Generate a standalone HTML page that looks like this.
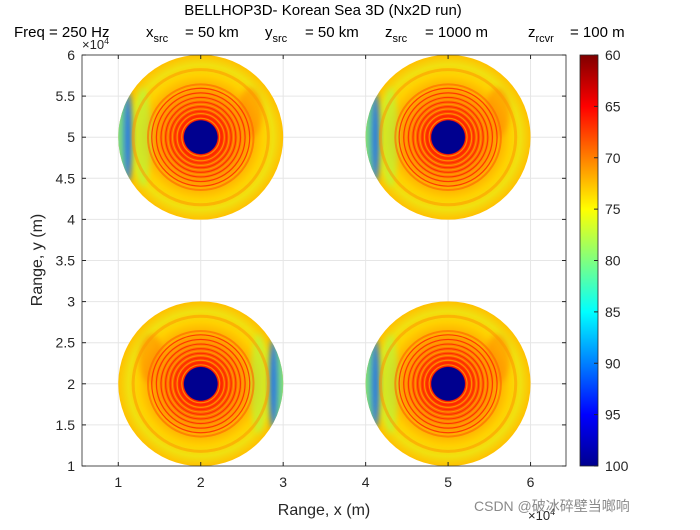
<!DOCTYPE html>
<html><head><meta charset="utf-8"><style>
html,body{margin:0;padding:0;background:#fff;}
svg text{font-family:"Liberation Sans","Noto Sans CJK SC",sans-serif;}
</style></head><body>
<svg id="chart" width="700" height="525" xmlns="http://www.w3.org/2000/svg">
<defs>
<linearGradient id="jet" x1="0" y1="1" x2="0" y2="0">
<stop offset="0" stop-color="#00008f"/><stop offset="0.125" stop-color="#0000ff"/>
<stop offset="0.375" stop-color="#00ffff"/><stop offset="0.625" stop-color="#ffff00"/>
<stop offset="0.875" stop-color="#ff0000"/><stop offset="1" stop-color="#800000"/>
</linearGradient>
<radialGradient id="disc">
<stop offset="0" stop-color="#00008f"/><stop offset="0.2" stop-color="#00008f"/>
<stop offset="0.21" stop-color="#ff2000"/><stop offset="0.35" stop-color="#ff5a00"/>
<stop offset="0.5" stop-color="#ff8c00"/><stop offset="0.62" stop-color="#ffb000"/>
<stop offset="0.75" stop-color="#ffd000"/><stop offset="0.88" stop-color="#f0e010"/>
<stop offset="1" stop-color="#ffc000"/>
</radialGradient>
<filter id="blur" x="-50%" y="-50%" width="200%" height="200%"><feGaussianBlur stdDeviation="3"/></filter>
</defs>
<g id="plot"></g>
</svg>
<script>
const xTicks=[1,2,3,4,5,6];
const yTicks=[1,1.5,2,2.5,3,3.5,4,4.5,5,5.5,6];
const cbTicks=[60,65,70,75,80,85,90,95,100];
const centersX=[2,5,2,5];
const centersY=[5,5,2,2];
const outerR=[1,1,1,1];
const innerR=[0.2,0.2,0.2,0.2];
const blueSide=[-1,-1,1,-1];
const xMin=0.56,xMax=6.43,yMin=1,yMax=6;
const L=82,R=566,T=55,B=466;
const sx=v=>L+(v-xMin)/(xMax-xMin)*(R-L);
const sy=v=>B-(v-yMin)/(yMax-yMin)*(B-T);
const ppu=(R-L)/(xMax-xMin);
const NS="http://www.w3.org/2000/svg";
const g=document.getElementById('plot');
function mk(t,a,p){const e=document.createElementNS(NS,t);for(const k in a)e.setAttribute(k,a[k]);(p||g).appendChild(e);return e;}
mk('rect',{x:L,y:T,width:R-L,height:B-T,fill:'#fff',stroke:'none'});
xTicks.forEach(v=>{mk('line',{x1:sx(v),x2:sx(v),y1:T,y2:B,stroke:'#e6e6e6'});});
yTicks.forEach(v=>{mk('line',{x1:L,x2:R,y1:sy(v),y2:sy(v),stroke:'#e6e6e6'});});
centersX.forEach((cx,i)=>{
  const grp=mk('g',{});
  
  
  const X=sx(cx),Y=sy(centersY[i]),r=outerR[i]*ppu,s=blueSide[i];
  mk('circle',{cx:X,cy:Y,r:r,fill:'url(#disc)'},grp);
  const cp=mk('clipPath',{id:'c'+i},grp);
  mk('circle',{cx:X,cy:Y,r:r},cp);
  const inner=mk('g',{'clip-path':'url(#c'+i+')'},grp);
  mk('ellipse',{cx:X+s*r*0.98,cy:Y,rx:r*0.12,ry:r*0.8,fill:'#60e0a0',opacity:0.8,filter:'url(#blur)'},inner);
  mk('ellipse',{cx:X+s*r*0.88,cy:Y,rx:r*0.05,ry:r*0.55,fill:'#1060ff',opacity:0.8,filter:'url(#blur)'},inner);
  mk('ellipse',{cx:X+s*r*0.7,cy:Y,rx:r*0.1,ry:r*0.6,fill:'#a0ff50',opacity:0.5,filter:'url(#blur)'},inner);
  mk('ellipse',{cx:X-s*r*0.6,cy:Y-r*0.3,rx:r*0.15,ry:r*0.3,fill:'#ff8000',opacity:0.5,filter:'url(#blur)'},inner);
  for(let k=0;k<14;k++){
    const rr=r*(innerR[i]+0.03+k*0.028);
    mk('circle',{cx:X,cy:Y,r:rr,fill:'none',stroke:k%2?'#ff2000':'#ffa000',"stroke-width":1.2,opacity:0.8},inner);
  }
  mk('circle',{cx:X,cy:Y,r:r*0.64,fill:'none',stroke:'#ff6000',"stroke-width":2,opacity:0.6},inner);
  mk('circle',{cx:X,cy:Y,r:r*0.82,fill:'none',stroke:'#ff9000',"stroke-width":3,opacity:0.5},inner);
  mk('circle',{cx:X,cy:Y,r:r*innerR[i],fill:'#00008f'},grp);
});
mk('rect',{x:L,y:T,width:R-L,height:B-T,fill:'none',stroke:'#262626','stroke-width':0.8});
const ax=mk('g',{});


xTicks.forEach(v=>{mk('line',{x1:sx(v),x2:sx(v),y1:B,y2:B-4,stroke:'#262626'},ax);mk('line',{x1:sx(v),x2:sx(v),y1:T,y2:T+4,stroke:'#262626'},ax);
 const t=mk('text',{x:sx(v),y:B+21,'text-anchor':'middle','font-size':14,fill:'#262626'},ax);t.textContent=v;});
yTicks.forEach(v=>{mk('line',{x1:L,x2:L+4,y1:sy(v),y2:sy(v),stroke:'#262626'},ax);mk('line',{x1:R,x2:R-4,y1:sy(v),y2:sy(v),stroke:'#262626'},ax);
 const t=mk('text',{x:L-7,y:sy(v)+5,'text-anchor':'end','font-size':14,fill:'#262626'},ax);t.textContent=v;});
const cb=mk('g',{});


const cbL=580,cbW=18;
mk('rect',{x:cbL,y:T,width:cbW,height:B-T,fill:'url(#jet)',stroke:'#262626','stroke-width':0.8},cb);
const cy=v=>T+(v-60)/40*(B-T);
cbTicks.forEach(v=>{mk('line',{x1:cbL+cbW-4,x2:cbL+cbW,y1:cy(v),y2:cy(v),stroke:'#262626'},cb);
 const t=mk('text',{x:cbL+cbW+7,y:cy(v)+5,'font-size':14,fill:'#262626'},cb);t.textContent=v;});
</script>
<svg style="position:absolute;left:0;top:0" width="700" height="525" xmlns="http://www.w3.org/2000/svg">
<text x="323" y="15" text-anchor="middle" font-size="15" fill="#000">BELLHOP3D- Korean Sea 3D (Nx2D run)</text>
<g font-size="15" fill="#000">
<text x="14" y="37">Freq = 250 Hz</text>
<text x="146" y="37">x<tspan font-size="11" dy="5">src</tspan></text><text x="185" y="37">= 50 km</text>
<text x="265" y="37">y<tspan font-size="11" dy="5">src</tspan></text><text x="305" y="37">= 50 km</text>
<text x="385" y="37">z<tspan font-size="11" dy="5">src</tspan></text><text x="425" y="37">= 1000 m</text>
<text x="528" y="37">z<tspan font-size="11" dy="5">rcvr</tspan></text><text x="570" y="37">= 100 m</text>
</g>
<text x="82" y="49" font-size="13" fill="#262626">×10<tspan font-size="9" dy="-5">4</tspan></text>
<text x="528" y="520" font-size="13" fill="#262626">×10<tspan font-size="9" dy="-5">4</tspan></text>
<text x="324" y="515" text-anchor="middle" font-size="16" fill="#262626">Range, x (m)</text>
<text x="42" y="260" text-anchor="middle" font-size="16" fill="#262626" transform="rotate(-90 42 260)">Range, y (m)</text>
<text x="474" y="511" font-size="14" fill="#8a8a8a">CSDN @破冰碎壁当啷响</text>
</svg>
</body></html>
